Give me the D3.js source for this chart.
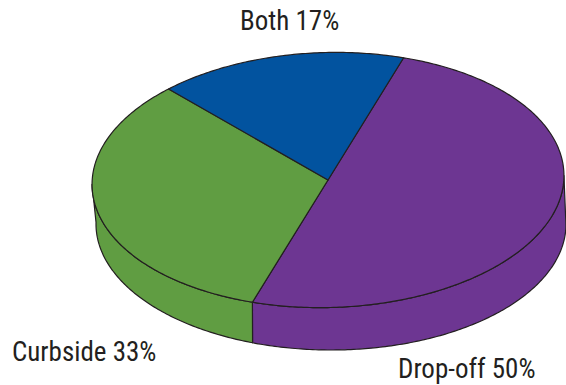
<!DOCTYPE html>
<html>
<head>
<meta charset="utf-8">
<script src="https://cdn.jsdelivr.net/npm/d3@7"></script>
<style>
  html, body { margin: 0; padding: 0; background: #fff; }
  svg { display: block; }
  .lbl { font-family: 'Liberation Sans Narrow', 'Roboto Condensed', 'DejaVu Sans Condensed', sans-serif; font-size: 27px; fill: #231f20; }
</style>
</head>
<body>
<svg id="chart" width="566" height="385"></svg>
<script>
// Pick-up method shares
const categories = ["Drop-off", "Curbside", "Both"];
const shares = [50, 33, 17];
const sliceColors = ["#6d3692", "#609d42", "#02539f"];
const labelText = ["Drop-off 50%", "Curbside 33%", "Both 17%"];

const W = 566, H = 385;
const svg = d3.select("#chart");

// Tilted disc: top face and bottom face ellipses
const topFace = { cx: 328, cy: 180, rx: 236, ry: 127.5, rot: -1.5 };
const botFace = { cx: 331, cy: 224, rx: 235, ry: 126, rot: 0 };
const startDeg = 19.5;

function onEllipse(e, phi) {
  const lx = e.rx * Math.sin(phi), ly = -e.ry * Math.cos(phi);
  const t = e.rot * Math.PI / 180;
  return [e.cx + lx * Math.cos(t) - ly * Math.sin(t),
          e.cy + lx * Math.sin(t) + ly * Math.cos(t)];
}

function sampleArc(e, a0, a1, n) {
  const pts = [];
  for (let i = 0; i <= n; i++) pts.push(onEllipse(e, a0 + (a1 - a0) * i / n));
  return pts;
}

const start = startDeg * Math.PI / 180;
const arcs = d3.pie().sort(null).value(d => d)
  .startAngle(start).endAngle(start + 2 * Math.PI)(shares);

// Visible side spans from the rightmost to the leftmost point of the rim
let phiR = 0, phiL = 0, maxX = -Infinity, minX = Infinity;
for (let i = 0; i <= 2000; i++) {
  const p = start + 2 * Math.PI * i / 2000;
  const x = onEllipse(topFace, p)[0];
  if (x > maxX) { maxX = x; phiR = p; }
  if (x < minX) { minX = x; phiL = p; }
}

const line = d3.line().curve(d3.curveLinear);
const stroke = "#231f20", sw = 1.2;

// Side walls
arcs.forEach((a, i) => {
  const s = Math.max(a.startAngle, phiR), e = Math.min(a.endAngle, phiL);
  if (e <= s) return;
  const n = Math.max(8, Math.ceil((e - s) * 80));
  const pts = sampleArc(topFace, s, e, n).concat(sampleArc(botFace, e, s, n));
  svg.append("path")
    .attr("d", line(pts) + "Z")
    .attr("fill", sliceColors[i])
    .attr("stroke", stroke).attr("stroke-width", sw)
    .attr("stroke-linejoin", "round");
});

// Top face slices
arcs.forEach((a, i) => {
  const n = Math.max(8, Math.ceil((a.endAngle - a.startAngle) * 80));
  const pts = [[topFace.cx, topFace.cy]].concat(sampleArc(topFace, a.startAngle, a.endAngle, n));
  svg.append("path")
    .attr("d", line(pts) + "Z")
    .attr("fill", sliceColors[i])
    .attr("stroke", stroke).attr("stroke-width", sw)
    .attr("stroke-linejoin", "round");
});

// Labels
const labelPos = [[398, 378], [12, 361], [240, 30]];
labelText.forEach((t, i) => {
  svg.append("text").attr("class", "lbl")
    .attr("x", labelPos[i][0]).attr("y", labelPos[i][1])
    .text(t);
});
</script>
</body>
</html>
